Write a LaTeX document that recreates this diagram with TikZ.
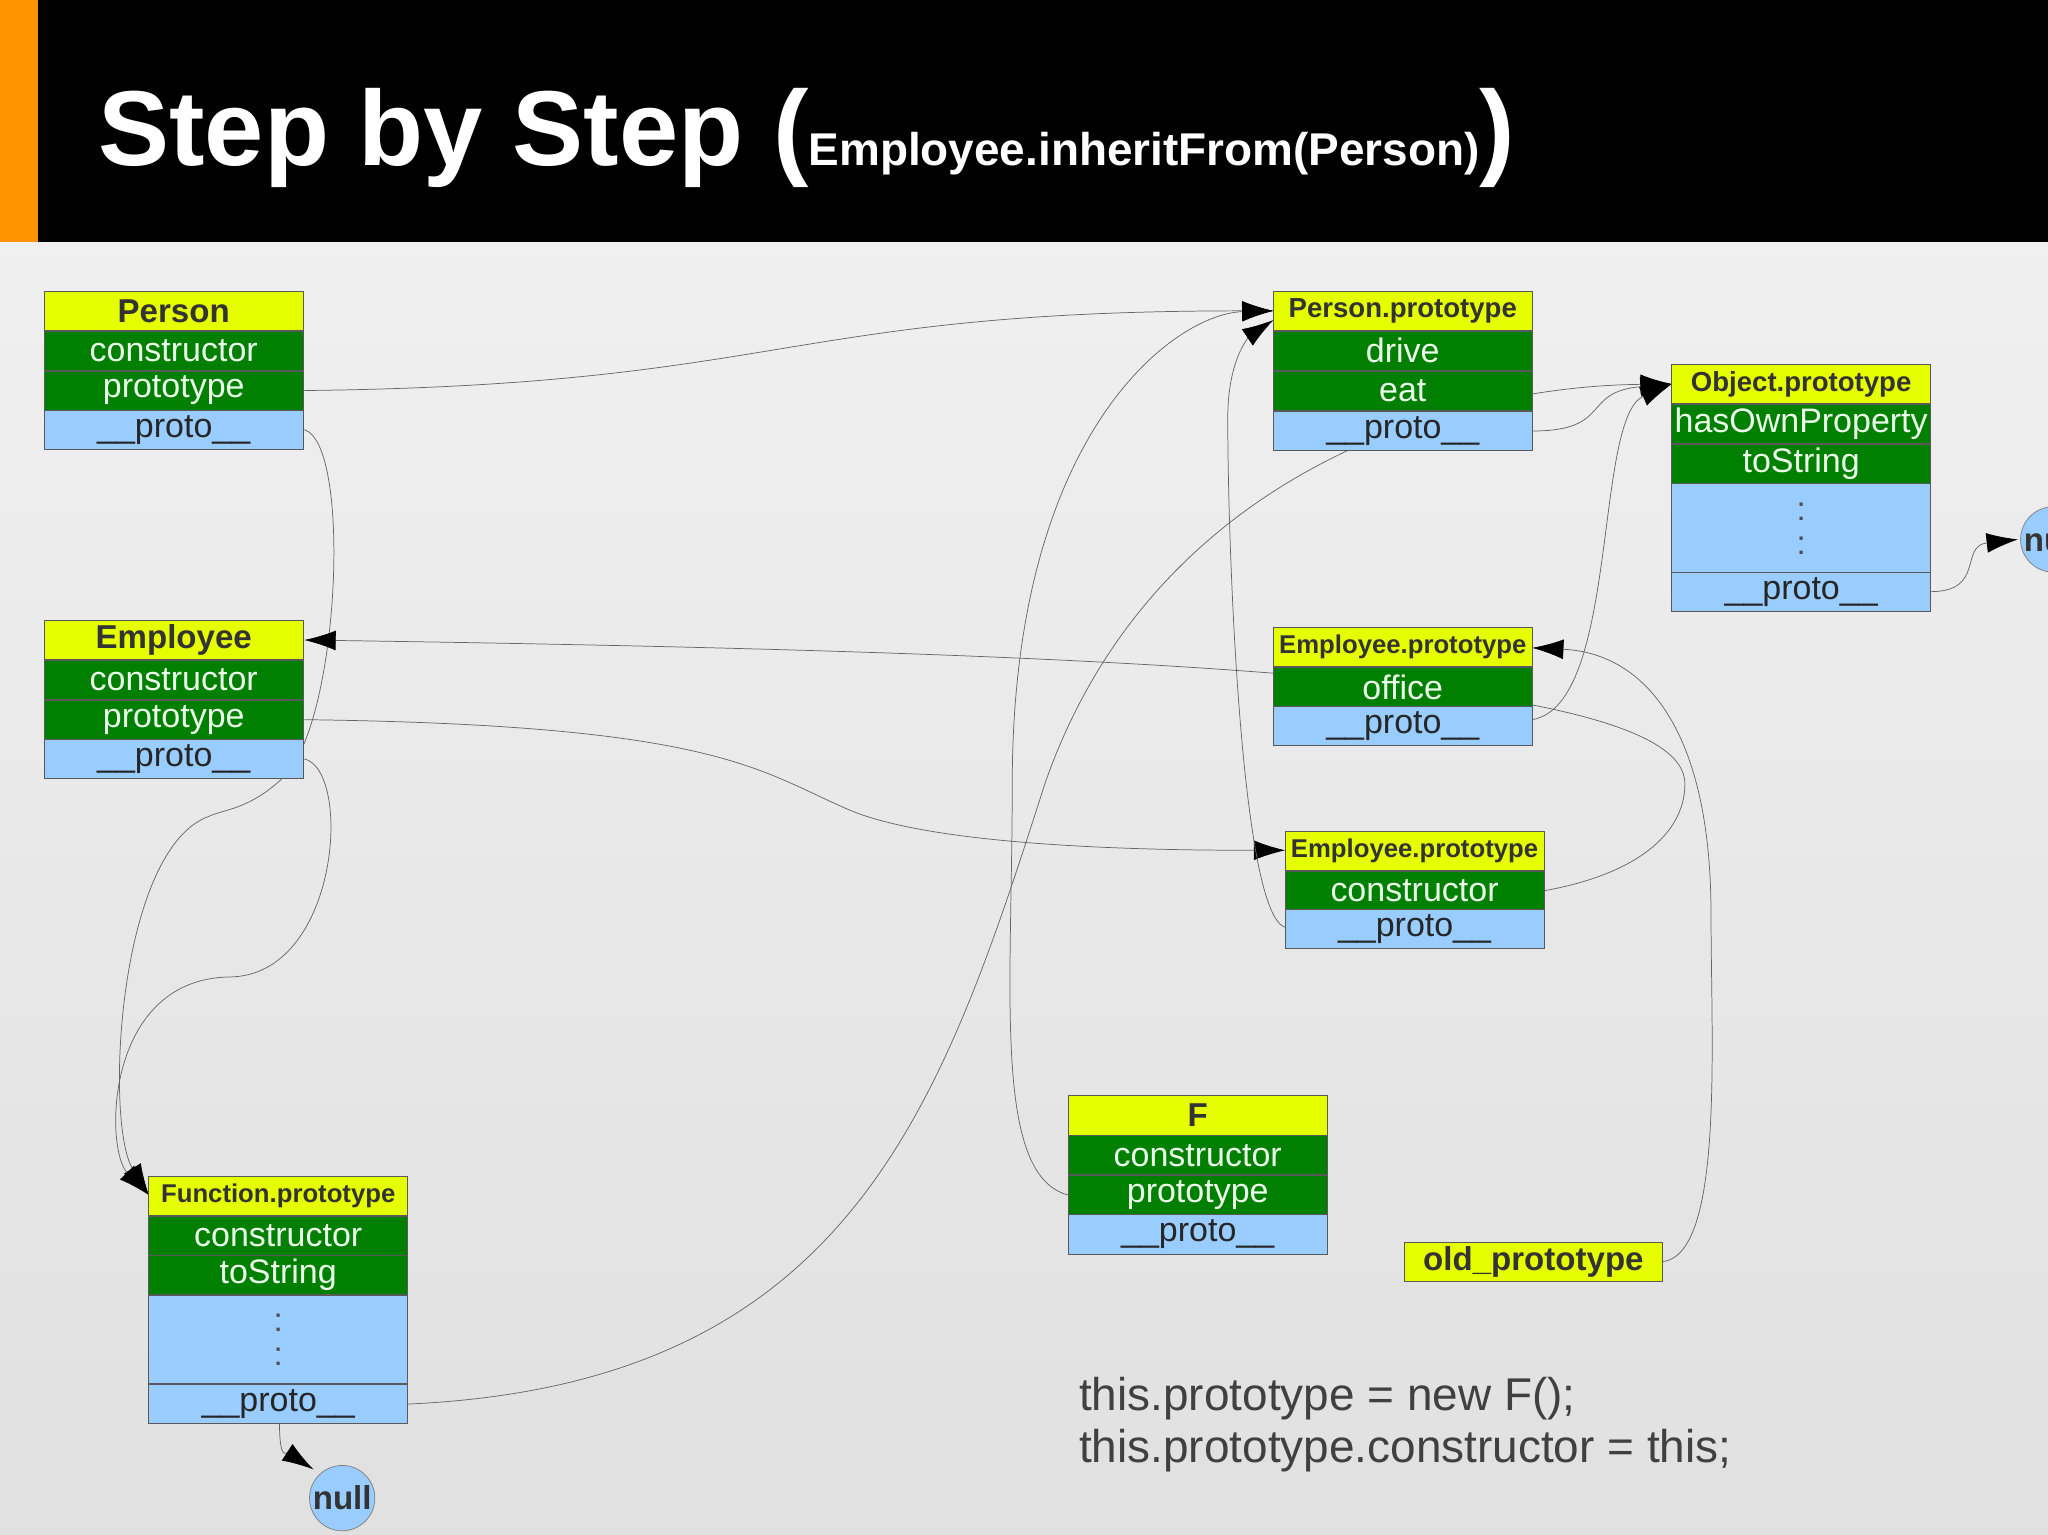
\documentclass[tikz,border=0pt]{standalone}
\usepackage{fontspec}
\setmainfont{Liberation Sans}
\usetikzlibrary{arrows.meta}
\definecolor{yel}{HTML}{E6FF00}
\definecolor{grn}{HTML}{007F00}
\definecolor{blu}{HTML}{99CCFF}
\begin{document}
\begin{tikzpicture}[x=0.025cm,y=-0.025cm,
 cell/.style={draw=black!65, line width=0.4pt, minimum width=4.95cm, minimum height=0.75cm, inner sep=0pt, anchor=center},
 hdr/.style={cell, fill=yel, text=black!80, font=\bfseries\fontsize{18}{18}\selectfont},
 hdrs/.style={cell, fill=yel, text=black!80, font=\bfseries\fontsize{15}{15}\selectfont},
 hdrt/.style={cell, fill=yel, text=black!80, font=\bfseries\fontsize{14}{14}\selectfont},
 grn/.style={cell, fill=grn, text=white!92!green, font=\fontsize{18.5}{18.5}\selectfont},
 blu/.style={cell, fill=blu, text=black!85, font=\fontsize{18.5}{18.5}\selectfont},
 dots/.style={cell, fill=blu, minimum height=1.7cm},
 colon/.style={inner sep=0pt, text=black!70, font=\fontsize{18}{18}\selectfont},
 codetext/.style={anchor=base west, inner sep=0, text=black!75, font=\fontsize{25}{25}\selectfont},
 link/.style={draw=black!60, line width=0.4pt, -{Latex[length=0.6cm,width=0.38cm,color=black]}},
 nul/.style={circle, draw=black!50, fill=blu, minimum size=1.25cm, inner sep=0pt, font=\bfseries\fontsize{18}{18}\selectfont, text=black!80}]
\useasboundingbox (0,0) rectangle (1568,1175);
\fill[top color=black!6, bottom color=black!12] (0,185) rectangle (1568,1175);
\fill[black] (0,0) rectangle (1568,185);
\fill[orange!85!yellow] (0,0) rectangle (29,185);
\node[anchor=base west, text=white, inner sep=0] (title) at (75,127) {\bfseries\fontsize{58}{58}\selectfont Step by Step (\fontsize{25}{25}\selectfont Employee.inheritFrom(Person)\fontsize{58}{58}\selectfont)};

% connectors (drawn first, boxes cover them)
\coordinate (a1) at (233,299);
\coordinate (pph) at (975,238);
\draw[link] (a1) .. controls (600,295) and (600,238) .. (pph);
\draw[link] (233,329) .. controls (270,340) and (260,560) .. (215,597) .. controls (190,620) and (170,620) .. (160,625) .. controls (90,650) and (80,860) .. (114,915);
\draw[link] (233,581) .. controls (270,590) and (260,748) .. (175,748) .. controls (80,750) and (80,880) .. (114,915);
\draw[link] (1182,682) .. controls (1250,670) and (1290,640) .. (1290,600) .. controls (1290,520) and (900,500) .. (233,490);
\draw[link] (233,551) .. controls (550,555) and (580,590) .. (650,620) .. controls (720,650) and (900,651) .. (984,651);
\draw[link] (1173,330) .. controls (1235,330) and (1210,300) .. (1280,294);
\draw[link] (1173,551) .. controls (1240,540) and (1220,320) .. (1280,294);
\draw[link] (1478,453) .. controls (1520,453) and (1500,418) .. (1545,413);
\draw[link] (312,1075) .. controls (650,1060) and (720,850) .. (800,600) .. controls (880,370) and (1100,296) .. (1280,294);
\draw[link] (984,710) .. controls (950,700) and (940,420) .. (940,320) .. controls (940,270) and (960,255) .. (975,245);
\draw[link] (818,915) .. controls (760,900) and (775,760) .. (775,600) .. controls (775,330) and (900,240) .. (975,238);
\draw[link] (1273,966) .. controls (1320,960) and (1310,800) .. (1310,700) .. controls (1310,560) and (1260,500) .. (1173,496);
\draw[link] (214,1090) .. controls (214,1120) and (220,1112) .. (240,1125);

% Person
\node[hdr] (p0) at (133,238) {Person};
\node[grn] (p1) at (133,268.5) {constructor};
\node[grn] (p2) at (133,299) {prototype};
\node[blu] (p3) at (133,329) {\_\_proto\_\_};
% Employee
\node[hdr] (e0) at (133,490) {Employee};
\node[grn] (e1) at (133,520.5) {constructor};
\node[grn] (e2) at (133,551) {prototype};
\node[blu] (e3) at (133,581) {\_\_proto\_\_};
% Person.prototype
\node[hdrs] (pp0) at (1074,238) {Person.prototype};
\node[grn] (pp1) at (1074,268.5) {drive};
\node[grn] (pp2) at (1074,299) {eat};
\node[blu] (pp3) at (1074,330) {\_\_proto\_\_};
% Object.prototype
\node[hdrs] (op0) at (1379,294) {Object.prototype};
\node[grn] (op1) at (1379,324.5) {hasOwnProperty};
\node[grn] (op2) at (1379,355) {toString};
\node[dots] (op3) at (1379,404) {};
\node[colon] (opc1) at (1379,392) {:};
\node[colon] (opc2) at (1379,418) {:};
\node[blu] (op4) at (1379,453) {\_\_proto\_\_};
% Employee.prototype old
\node[hdrt] (eo0) at (1074,495.5) {Employee.prototype};
\node[grn] (eo1) at (1074,526) {office};
\node[blu] (eo2) at (1074,555.5) {\_\_proto\_\_};
% Employee.prototype new
\node[hdrt] (en0) at (1083,651.5) {Employee.prototype};
\node[grn] (en1) at (1083,682) {constructor};
\node[blu] (en2) at (1083,711) {\_\_proto\_\_};
% F
\node[hdr] (f0) at (917,854) {F};
\node[grn] (f1) at (917,884.5) {constructor};
\node[grn] (f2) at (917,915) {prototype};
\node[blu] (f3) at (917,945) {\_\_proto\_\_};
% old_prototype
\node[hdr] (old) at (1174,966) {old\_prototype};
% Function.prototype
\node[hdrt] (fp0) at (213,915.5) {Function.prototype};
\node[grn] (fp1) at (213,946) {constructor};
\node[grn] (fp2) at (213,976) {toString};
\node[dots] (fp3) at (213,1025.5) {};
\node[colon] (fpc1) at (213,1013) {:};
\node[colon] (fpc2) at (213,1039) {:};
\node[blu] (fp4) at (213,1075) {\_\_proto\_\_};
% nulls
\node[nul] (n1) at (262,1147) {null};
\node[nul] (n2) at (1572,413) {null};

\node[codetext] (code1) at (826,1080) {this.prototype = new F();};
\node[codetext] (code2) at (826,1120) {this.prototype.constructor = this;};
\end{tikzpicture}
\end{document}
